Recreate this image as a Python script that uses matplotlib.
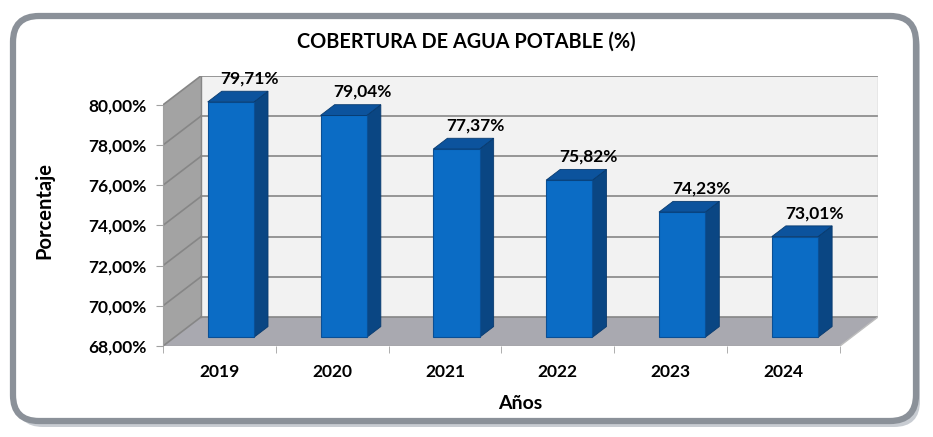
import matplotlib
matplotlib.use('Agg')
import matplotlib.pyplot as plt
from matplotlib.patches import Polygon, FancyBboxPatch

years = ['2019', '2020', '2021', '2022', '2023', '2024']
coverage = [79.71, 79.04, 77.37, 75.82, 74.23, 73.01]
value_labels = ['79,71%', '79,04%', '77,37%', '75,82%', '74,23%', '73,01%']
y_ticks = [68, 70, 72, 74, 76, 78, 80]
y_tick_labels = ['68,00%', '70,00%', '72,00%', '74,00%', '76,00%', '78,00%', '80,00%']

y_min, y_max = 68, 80
# oblique "3d" offset of the back wall, in data units
DX, DY = 0.337, 1.443
bar_w = 0.41
d0, d1 = 0.30, 0.37   # bar front depth and bar depth (fraction of full depth)

plt.rcParams['font.family'] = ['Lato', 'DejaVu Sans']
plt.rcParams['font.weight'] = 'bold'

fig = plt.figure(figsize=(9.33, 4.37), dpi=100)

# rounded frame with shadow
shadow = FancyBboxPatch((0.17, 0.10), 9.03, 4.05, boxstyle='round,pad=0,rounding_size=0.26',
                        transform=fig.dpi_scale_trans, facecolor='#c8ccd2', edgecolor='none', zorder=-2)
frame = FancyBboxPatch((0.13, 0.16), 9.03, 4.05, boxstyle='round,pad=0,rounding_size=0.26',
                       transform=fig.dpi_scale_trans, facecolor='white', edgecolor='#8b9199',
                       linewidth=4.5, zorder=-1)
fig.patches.extend([shadow, frame])

ax = fig.add_axes([0.1747, 0.2082, 0.7663, 0.6183])
ax.set_facecolor('none')
n = len(years)
x0, x1 = -0.5, n - 0.5
ax.set_xlim(x0, x1 + DX)
ax.set_ylim(y_min, y_max + DY)

# walls
back = Polygon([(x0 + DX, y_min + DY), (x1 + DX, y_min + DY), (x1 + DX, y_max + DY), (x0 + DX, y_max + DY)],
               closed=True, facecolor='#f2f2f2', edgecolor='none', zorder=1)
side = Polygon([(x0, y_min), (x0 + DX, y_min + DY), (x0 + DX, y_max + DY), (x0, y_max)],
               closed=True, facecolor='#a3a3a3', edgecolor='none', zorder=1)
floor = Polygon([(x0, y_min), (x1, y_min), (x1 + DX, y_min + DY), (x0 + DX, y_min + DY)],
                closed=True, facecolor='#a9a9b0', edgecolor='none', zorder=1)
for p in (back, side, floor):
    ax.add_patch(p)

grid_c = '#868686'
for g in y_ticks:
    ax.plot([x0 + DX, x1 + DX], [g + DY, g + DY], color=grid_c, lw=1.2, zorder=2)
    ax.plot([x0, x0 + DX], [g, g + DY], color=grid_c, lw=1.2, zorder=2)
ax.plot([x0 + DX, x0 + DX], [y_min + DY, y_max + DY], color=grid_c, lw=1.0, zorder=2)
ax.plot([x1 + DX, x1 + DX], [y_min + DY, y_max + DY], color='#bdbdbd', lw=1.0, zorder=2)
ax.plot([x1, x1 + DX], [y_min, y_min + DY], color='#bdbdbd', lw=1.0, zorder=2)
ax.plot([x0, x1], [y_min, y_min], color='#a0a0a0', lw=1.0, zorder=2)

# bars
xs = list(range(n))
fx = [x + d0 * DX for x in xs]
base = y_min + d0 * DY
ax.bar(fx, [v - y_min for v in coverage], bottom=base, width=bar_w,
       color='#0b6cc5', edgecolor='#0a4f95', linewidth=0.8, zorder=4)
bdx, bdy = d1 * DX, d1 * DY
for x, v, lab in zip(fx, coverage, value_labels):
    l, r = x - bar_w / 2, x + bar_w / 2
    top = v + d0 * DY
    ax.add_patch(Polygon([(r, base), (r + bdx, base + bdy), (r + bdx, top + bdy), (r, top)],
                         closed=True, facecolor='#0a4683', edgecolor='#083a6e', lw=0.6, zorder=3))
    ax.add_patch(Polygon([(l, top), (r, top), (r + bdx, top + bdy), (l + bdx, top + bdy)],
                         closed=True, facecolor='#0c539d', edgecolor='#083a6e', lw=0.6, zorder=5))
    ax.text(x + 0.17, v + 1.6, lab, ha='center', va='center', fontsize=12.5,
            fontweight='bold', color='black', zorder=6)

# axes
for s in ('top', 'right', 'bottom'):
    ax.spines[s].set_visible(False)
ax.spines['left'].set_bounds(y_min, y_max)
ax.spines['left'].set_color('#a0a0a0')
ax.set_yticks(y_ticks)
ax.set_yticklabels(y_tick_labels, fontsize=12.5, fontweight='bold')
ax.tick_params(axis='y', length=5, color='#a0a0a0', pad=7)
ax.set_xticks(xs)
ax.set_xticklabels(years, fontsize=12.5, fontweight='bold')
ax.tick_params(axis='x', length=0, pad=13)
ax.set_xticks([x0 + i for i in range(n + 1)], minor=True)
ax.tick_params(axis='x', which='minor', length=5, color='#a0a0a0')

ax.set_ylabel('Porcentaje', fontsize=14.5, fontweight='bold', labelpad=24)
ax.set_xlabel('Años', fontsize=14, fontweight='bold', labelpad=11)
fig.text(0.5, 0.905, 'COBERTURA DE AGUA POTABLE (%)', ha='center', va='center',
         fontsize=14.3, fontweight='bold')

fig.savefig('out.png', dpi=100)
